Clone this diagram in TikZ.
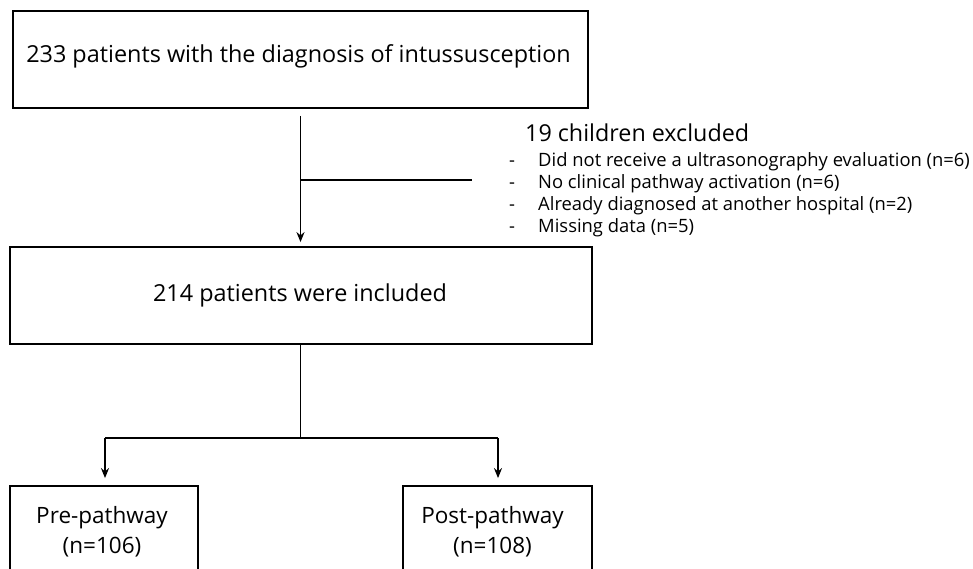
\documentclass[tikz,border=0pt]{standalone}
\usepackage{fontspec}
\setmainfont{Open Sans}
\usetikzlibrary{arrows.meta}
\begin{document}
\begin{tikzpicture}[x=1pt,y=-1pt,
  box/.style={draw,line width=1.8pt,inner sep=0pt,minimum width=#1},
  lbl/.style={inner sep=0pt,font=\fontsize{23.4}{28}\selectfont,align=center},
  item/.style={anchor=base west,inner sep=0pt,font=\fontsize{18.4}{22}\selectfont},
  conn/.style={line width=1.7pt},
  arr/.style={conn,-{Stealth[length=10pt,width=8pt]}}]
\useasboundingbox (0,0) rectangle (973,569);
\clip (0,0) rectangle (973,569);
\node[box=575pt,minimum height=97pt] (top) at (300.5,59.5) {};
\node[lbl,anchor=base] (toptxt) at (298.5,63) {233 patients with the diagnosis of intussusception};
\node[box=582pt,minimum height=97pt] (incl) at (301,295.5) {};
\node[lbl,anchor=base] (incltxt) at (300,301) {214 patients were included};
\node[box=188pt,minimum height=130pt] (pre) at (104,551) {};
\node[lbl,font=\fontsize{22.5}{30}\selectfont] (pretxt) at (102,532) {Pre-pathway\\(n=106)};
\node[box=189pt,minimum height=130pt] (post) at (497.5,551) {};
\node[lbl,font=\fontsize{22.5}{30}\selectfont] (posttxt) at (492.5,532) {Post-pathway\\(n=108)};
\coordinate (t1) at (300.5,116);
\coordinate (br) at (300.5,180);
\coordinate (brend) at (472,180);
\node[anchor=base west,inner sep=0pt,font=\fontsize{23.3}{28}\selectfont] (exh) at (525,142) {19 children excluded};
\node[item] (ex1) at (509,167) {\makebox[29pt][l]{-}Did not receive a ultrasonography evaluation (n=6)};
\node[item] (ex2) at (509,189) {\makebox[29pt][l]{-}No clinical pathway activation (n=6)};
\node[item] (ex3) at (509,211) {\makebox[29pt][l]{-}Already diagnosed at another hospital (n=2)};
\node[item] (ex4) at (509,233) {\makebox[29pt][l]{-}Missing data (n=5)};
\draw[arr,shorten >=4pt] (t1) -- (t1 |- incl.north);
\draw[conn] (br) -- (brend);
\coordinate (s1) at (300.5,438);
\coordinate (sl) at (105,438);
\coordinate (sr) at (498,438);
\draw[conn] (incl.south -| s1) -- (s1);
\draw[conn] (sl) -- (sr);
\draw[arr,shorten >=7pt] (sl) -- (sl |- pre.north);
\draw[arr,shorten >=7pt] (sr) -- (sr |- post.north);
\end{tikzpicture}
\end{document}
